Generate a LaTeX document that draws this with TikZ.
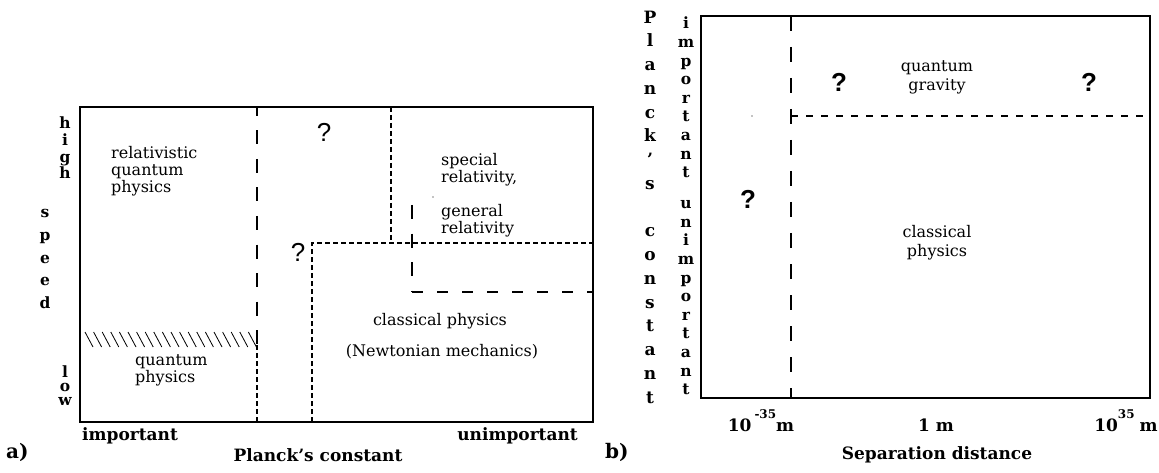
\documentclass[tikz,border=0pt]{standalone}
\usepackage{fontspec}
\setmainfont{DejaVu Serif}
\newfontfamily\qfont{Liberation Sans}
\begin{document}
\begin{tikzpicture}[x=1pt,y=-1pt,
  frame/.style={line width=1.3pt},
  longdash/.style={line width=1.3pt, dash pattern=on 14pt off 14.5pt},
  hlongdash/.style={line width=1.3pt, dash pattern=on 11pt off 14pt},
  shortdash/.style={line width=1.1pt, dash pattern=on 5pt off 3pt},
  blongdash/.style={line width=1.3pt, dash pattern=on 15pt off 16pt},
  bshortdash/.style={line width=1.2pt, dash pattern=on 7pt off 8pt},
  hatchline/.style={line width=0.8pt},
  region/.style={font=\fontsize{16}{17}\selectfont, align=left, inner sep=0pt},
  bregion/.style={font=\fontsize{16}{19}\selectfont, align=center, inner sep=0pt},
  axislabel/.style={font=\bfseries\fontsize{17}{20}\selectfont, inner sep=0pt},
  panellabel/.style={font=\bfseries\fontsize{20}{22}\selectfont, inner sep=0pt},
  stack/.style={font=\bfseries\fontsize{15.5}{#1}\selectfont, align=center, inner sep=0pt},
  bigstack/.style={font=\bfseries\fontsize{17}{#1}\selectfont, align=center, inner sep=0pt},
  qmark/.style={font=\qfont\fontsize{26}{26}\selectfont, inner sep=0pt},
  qmarkbold/.style={font=\qfont\bfseries\fontsize{26}{26}\selectfont, inner sep=0pt},
  speck/.style={fill=black, inner sep=0pt, minimum size=1.4pt, circle}
]
\useasboundingbox (0,0) rectangle (1159,473);

% ---------- (a) speed versus Planck's constant ----------
\draw[frame] (80,107) rectangle (593,422);
\draw[longdash, dash phase=5pt] (257,107) -- (257,345);
\draw[shortdash] (257,345) -- (257,422);
\draw[shortdash] (391,107) -- (391,243);
\draw[shortdash] (312,422) -- (312,243) -- (593,243);
\draw[longdash] (412,205) -- (412,292);
\draw[hlongdash] (412,292) -- (593,292);
% hatched band above quantum physics
\foreach \x in {85,93.6,...,249} \draw[hatchline] (\x,332) -- (\x+8,347);
\node[speck] (speckA) at (433,197) {};

\node[region, anchor=west] (relq) at (111,171) {relativistic\\quantum\\physics};
\node[region, anchor=west] (qphys) at (135,370) {quantum\\physics};
\node[region, anchor=west] (sprel) at (441,170) {special\\relativity,};
\node[region, anchor=west] (genrel) at (441,221) {general\\relativity};
\node[region, anchor=center] (classA) at (440,321) {classical physics};
\node[region, anchor=center] (newton) at (442,352) {(Newtonian mechanics)};
\node[qmark] (qA1) at (324,132) {?};
\node[qmark] (qA2) at (298,252) {?};

\node[stack=16.7] (high) at (65,148) {h\\i\\g\\h};
\node[stack=22.7] (speed) at (45,259) {s\\p\\e\\e\\d};
\node[stack=14] (low) at (65,386) {l\\o\\w};
\node[axislabel, anchor=west] (imp) at (82,436) {important};
\node[axislabel, anchor=east] (unimp) at (578,436) {unimportant};
\node[axislabel] (hA) at (318,455) {Planck's constant};
\node[panellabel, anchor=west] (labA) at (6,452) {a)};

% ---------- (b) Planck's constant versus separation distance ----------
\draw[frame] (701,16) rectangle (1150,398);
\draw[blongdash] (791,16) -- (791,398);
\draw[bshortdash] (791,116) -- (1150,116);
\node[speck] (speckB) at (752,116) {};

\node[bregion] (qgrav) at (937,77) {quantum\\gravity};
\node[bregion] (classB) at (937,243) {classical\\physics};
\node[qmarkbold] (qB1) at (839,82) {?};
\node[qmarkbold] (qB2) at (748,199) {?};
\node[qmarkbold] (qB3) at (1089,82) {?};

\node[bigstack=23.75] (hB) at (650,207)
  {P\\l\\a\\n\\c\\k\\'\\s\\[23.75pt]c\\o\\n\\s\\t\\a\\n\\t};
\node[stack=18.6] (impB) at (686,206)
  {i\\m\\p\\o\\r\\t\\a\\n\\t\\[12.4pt]u\\n\\i\\m\\p\\o\\r\\t\\a\\n\\t};

\node[axislabel, anchor=base] (tickL) at (761,431)
  {10\hspace{3pt}\raisebox{0.75em}{\fontsize{12}{12}\selectfont -35}m};
\node[axislabel, anchor=base] (tickM) at (936,431) {1 m};
\node[axislabel, anchor=base] (tickR) at (1126,431)
  {10\raisebox{0.75em}{\fontsize{12}{12}\selectfont 35}\hspace{5pt}m};
\node[axislabel] (xB) at (937,455) {Separation distance};
\node[panellabel, anchor=west] (labB) at (605,452) {b)};
\end{tikzpicture}
\end{document}
